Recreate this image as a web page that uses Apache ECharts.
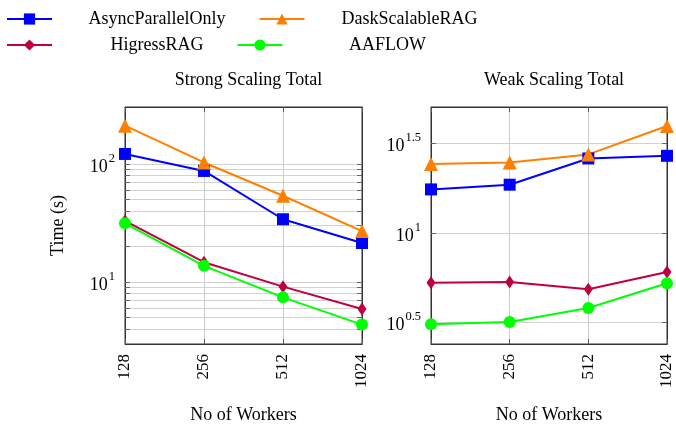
<!DOCTYPE html>
<html>
<head>
<meta charset="utf-8">
<script src="https://cdn.jsdelivr.net/npm/echarts@6/dist/echarts.min.js"></script>
<style>
  html, body { margin: 0; padding: 0; background: #fff; }
  #chart { width: 676px; height: 427px; }
</style>
</head>
<body>
<div id="chart"></div>
<script>
// Worker counts on the x axis
const workers = ['128', '256', '512', '1024'];

// Strong scaling: total time (s)
const strongAsync   = [121.6, 87.3, 34.0, 21.4];
const strongDask    = [211, 103, 53.8, 27.0];
const strongHigress = [33.0, 14.7, 9.13, 5.9];
const strongAaflow  = [31.4, 13.7, 7.41, 4.35];

// Weak scaling: total time (s)
const weakAsync   = [17.5, 18.6, 26.1, 27.0];
const weakDask    = [24.3, 24.8, 27.5, 39.7];
const weakHigress = [5.25, 5.29, 4.82, 6.02];
const weakAaflow  = [3.07, 3.16, 3.79, 5.21];

// Log-axis ranges
const strongRange = [2.98, 304];
const weakRange   = [2.38, 50.7];

// Tick positions (log axes)
const strongMajor = [10, 100];
const strongGrid  = [4, 5, 6, 7, 8, 9, 10, 20, 30, 40, 50, 60, 70, 80, 90, 100];
const weakMajor   = [Math.pow(10, 0.5), 10, Math.pow(10, 1.5)];

const FONT = '"Liberation Serif", "DejaVu Serif", serif';
const styles = {
  AsyncParallelOnly: { color: '#0000ff', symbol: 'rect', symbolSize: 12 },
  DaskScalableRAG:   { color: '#ff8000', symbol: 'triangle', symbolSize: 14 },
  HigressRAG:        { color: '#bf0040', symbol: 'diamond', symbolSize: [9, 13] },
  AAFLOW:            { color: '#00ff00', symbol: 'circle', symbolSize: 12 }
};

function powLabel(v) {
  const e = Math.round(Math.log10(v) * 10) / 10;
  return '{b|10}{s|' + e + '}';
}
const powRich = {
  b: { fontSize: 18, fontFamily: FONT, color: '#000', lineHeight: 24, verticalAlign: 'bottom' },
  s: { fontSize: 12.5, fontFamily: FONT, color: '#000', lineHeight: 24, verticalAlign: 'top', padding: [0, 0, 0, 1] }
};

function makeSeries(name, data, gi) {
  const s = styles[name];
  return {
    name: name,
    type: 'line',
    xAxisIndex: gi * 2,
    yAxisIndex: gi * 2,
    data: data,
    symbol: s.symbol,
    symbolSize: s.symbolSize,
    showAllSymbol: true,
    lineStyle: { color: s.color, width: 2 },
    itemStyle: { color: s.color },
    emphasis: { disabled: true },
    animation: false,
    z: 3
  };
}

function xAxesFor(gi) {
  const bottom = {
    type: 'category',
    gridIndex: gi,
    data: workers,
    position: 'bottom',
    boundaryGap: false,
    name: 'No of Workers',
    nameLocation: 'middle',
    nameGap: 62,
    nameTextStyle: { fontSize: 18, fontFamily: FONT, color: '#000' },
    axisLine: { show: true, lineStyle: { color: '#333', width: 1 } },
    axisTick: { show: true, inside: true, length: 5, lineStyle: { color: '#555' } },
    axisLabel: { rotate: 90, margin: 10, fontSize: 17, fontFamily: FONT, color: '#000', interval: 0 },
    splitLine: { show: true, lineStyle: { color: '#cccccc', width: 1 } }
  };
  // mirrored ticks along the top edge of the frame
  const top = {
    type: 'category',
    gridIndex: gi,
    data: workers,
    position: 'top',
    boundaryGap: false,
    axisLine: { show: true, lineStyle: { color: '#333', width: 1 } },
    axisTick: { show: true, inside: true, length: 5, lineStyle: { color: '#555' } },
    axisLabel: { show: false },
    splitLine: { show: false }
  };
  return [bottom, top];
}

function yAxesFor(gi, range, major, grid, withName) {
  const left = {
    type: 'log',
    logBase: 10,
    gridIndex: gi,
    min: range[0],
    max: range[1],
    position: 'left',
    axisLine: { show: true, lineStyle: { color: '#333', width: 1 } },
    axisTick: { show: true, inside: true, length: 5, customValues: grid, lineStyle: { color: '#666' } },
    axisLabel: { customValues: major, margin: 10, formatter: powLabel, rich: powRich },
    splitLine: { show: true, lineStyle: { color: '#d2d2d2', width: 1 } },
    minorTick: { show: false },
    minorSplitLine: { show: false }
  };
  if (withName) {
    left.name = 'Time (s)';
    left.nameLocation = 'middle';
    left.nameGap = 58;
    left.nameTextStyle = { fontSize: 18, fontFamily: FONT, color: '#000' };
  }
  // mirrored ticks along the right edge of the frame
  const right = {
    type: 'log',
    logBase: 10,
    gridIndex: gi,
    min: range[0],
    max: range[1],
    position: 'right',
    axisLine: { show: true, lineStyle: { color: '#333', width: 1 } },
    axisTick: { show: true, inside: true, length: 5, customValues: grid, lineStyle: { color: '#666' } },
    axisLabel: { show: false },
    splitLine: { show: false }
  };
  return [left, right];
}

const legendText = {
  rich: { c: { width: 200, align: 'center', fontSize: 18, fontFamily: FONT, color: '#000' } }
};
const legendBase = {
  orient: 'horizontal',
  itemWidth: 45,
  itemHeight: 14,
  itemGap: 33,
  formatter: function (n) { return '{c|' + n + '}'; },
  textStyle: legendText,
  selectedMode: false
};

const chart = echarts.init(document.getElementById('chart'), null, { renderer: 'canvas' });
chart.setOption({
  backgroundColor: '#fff',
  animation: false,
  title: [
    { text: 'Strong Scaling Total', left: 243.5, top: 66, textAlign: 'center',
      textStyle: { fontSize: 18, fontWeight: 'normal', fontFamily: FONT, color: '#000' } },
    { text: 'Weak Scaling Total', left: 549, top: 66, textAlign: 'center',
      textStyle: { fontSize: 18, fontWeight: 'normal', fontFamily: FONT, color: '#000' } }
  ],
  legend: [
    Object.assign({}, legendBase, { data: ['AsyncParallelOnly', 'DaskScalableRAG'], left: 1, top: 5 }),
    Object.assign({}, legendBase, { data: ['HigressRAG', 'AAFLOW'], left: 1, top: 31 })
  ],
  grid: [
    { left: 125, top: 107, width: 237, height: 237, show: true, borderColor: '#333', borderWidth: 1, outerBoundsMode: 'none' },
    { left: 431, top: 107, width: 236, height: 237, show: true, borderColor: '#333', borderWidth: 1, outerBoundsMode: 'none' }
  ],
  xAxis: [].concat(xAxesFor(0), xAxesFor(1)),
  yAxis: [].concat(
    yAxesFor(0, strongRange, strongMajor, strongGrid, true),
    yAxesFor(1, weakRange, weakMajor, weakMajor, false)
  ),
  series: [
    makeSeries('AsyncParallelOnly', strongAsync, 0),
    makeSeries('DaskScalableRAG', strongDask, 0),
    makeSeries('HigressRAG', strongHigress, 0),
    makeSeries('AAFLOW', strongAaflow, 0),
    makeSeries('AsyncParallelOnly', weakAsync, 1),
    makeSeries('DaskScalableRAG', weakDask, 1),
    makeSeries('HigressRAG', weakHigress, 1),
    makeSeries('AAFLOW', weakAaflow, 1)
  ]
});
</script>
</body>
</html>
